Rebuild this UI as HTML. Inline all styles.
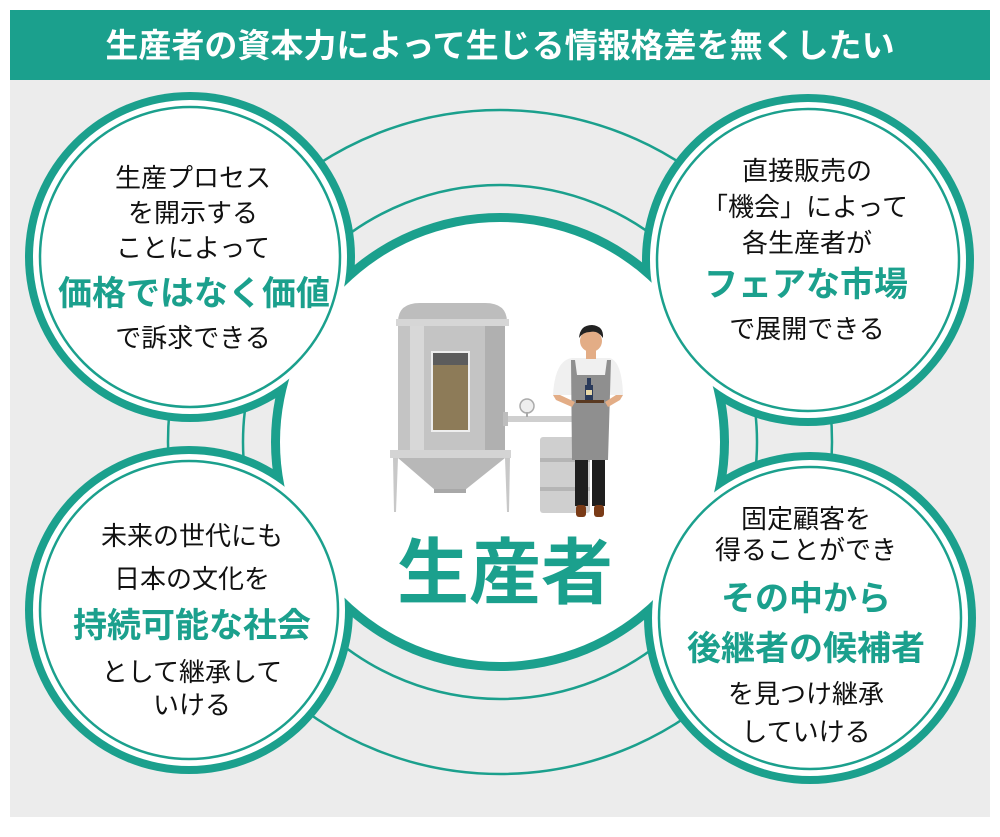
<!DOCTYPE html>
<html><head><meta charset="utf-8"><style>
html,body{margin:0;padding:0;background:#fff;}
svg{display:block;}
text{font-family:"Liberation Sans","Noto Sans CJK JP",sans-serif;}
</style></head><body>
<svg width="1000" height="837" viewBox="0 0 1000 837" xmlns="http://www.w3.org/2000/svg">
<rect x="0" y="0" width="1000" height="837" fill="#fff"/>
<rect x="10" y="80" width="980" height="737" fill="#ececec"/>
<rect x="10" y="10" width="980" height="70" fill="#1ba08d"/>
<text x="500" y="57" text-anchor="middle" font-size="33" font-weight="bold" fill="#fff">生産者の資本力によって生じる情報格差を無くしたい</text>

<circle cx="500" cy="442" r="332" fill="none" stroke="#1ba08d" stroke-width="2.5"/>
<circle cx="500" cy="442" r="257" fill="none" stroke="#1ba08d" stroke-width="2.5"/>

<g fill="#1ba08d">
<circle cx="500" cy="442" r="229"/>
<circle cx="190" cy="257" r="165"/>
<circle cx="808" cy="260" r="166"/>
<circle cx="189" cy="610" r="164"/>
<circle cx="810" cy="618" r="166"/>
</g>
<g fill="#fff">
<circle cx="500" cy="442" r="220"/>
<circle cx="190" cy="257" r="157"/>
<circle cx="808" cy="260" r="158"/>
<circle cx="189" cy="610" r="156"/>
<circle cx="810" cy="618" r="158"/>
</g>
<g fill="none" stroke="#1ba08d" stroke-width="2.5">
<circle cx="190" cy="257" r="150"/>
<circle cx="808" cy="260" r="151"/>
<circle cx="189" cy="610" r="149"/>
<circle cx="810" cy="618" r="151"/>
</g>

<g>
<path d="M398 322 Q398 303 420 303 L485 303 Q507 303 507 322 Z" fill="#bdbdbd"/>
<rect x="396" y="319" width="113" height="7" fill="#d6d6d6"/>
<rect x="398" y="326" width="107" height="124" fill="#c4c4c4"/>
<rect x="410" y="326" width="14" height="124" fill="#d8d8d8"/>
<rect x="485" y="326" width="20" height="124" fill="#b0b0b0"/>
<rect x="431" y="351" width="39" height="81" fill="#eee"/>
<rect x="433" y="353" width="35" height="77" fill="#8d7b58"/>
<rect x="433" y="353" width="35" height="12" fill="#5c5c5c"/>
<rect x="390" y="450" width="121" height="8" fill="#d4d4d4"/>
<path d="M398 458 L505 458 L465 490 L435 490 Z" fill="#b8b8b8"/>
<rect x="434" y="489" width="32" height="4" fill="#a8a8a8"/>
<path d="M393 458 L398 458 L396 512 L394 512 Z" fill="#c8c8c8"/>
<path d="M505 458 L510 458 L509 512 L507 512 Z" fill="#c8c8c8"/>
<rect x="504" y="416" width="68" height="6" fill="#cfcfcf"/>
<rect x="503" y="412" width="5" height="14" fill="#bdbdbd"/>
<circle cx="527" cy="406" r="7" fill="#eee" stroke="#aaa" stroke-width="1.5"/>
<rect x="526" y="412" width="2" height="5" fill="#aaa"/>
<rect x="540" y="437" width="50" height="76" rx="3" fill="#cfcfcf"/>
<rect x="540" y="458" width="50" height="4" fill="#b5b5b5"/>
<rect x="540" y="487" width="50" height="4" fill="#b5b5b5"/>
</g>
<g>
<path d="M553 395 Q555 360 572 358 L610 358 Q622 362 623 395 Z" fill="#f0f0f0"/>
<circle cx="591" cy="341" r="11" fill="#e3ad86"/>
<path d="M579 338 Q580 325 592 325 Q604 326 603 338 Q598 330 590 332 Q583 332 579 338 Z" fill="#222"/>
<rect x="586" y="350" width="10" height="9" fill="#e3ad86"/>
<path d="M571 360 L575 360 L577 375 L605 375 L607 360 L611 360 L608 460 L572 460 Z" fill="#8f8f8f"/>
<path d="M553 395 L560 395 L575 402 L572 407 L556 400 Z" fill="#e3ad86"/>
<path d="M623 395 L616 395 L605 402 L608 407 L620 400 Z" fill="#e3ad86"/>
<rect x="576" y="400" width="28" height="3" fill="#5a3a22"/>
<rect x="585" y="385" width="8" height="15" fill="#2a3a5a"/>
<rect x="587" y="378" width="4" height="8" fill="#2a3a5a"/>
<rect x="586" y="390" width="6" height="5" fill="#e8d8a8"/>
<rect x="575" y="460" width="13" height="46" fill="#1f1f1f"/>
<rect x="592" y="460" width="13" height="46" fill="#1f1f1f"/>
<rect x="576" y="505" width="10" height="12" rx="3" fill="#7a3b17"/>
<rect x="594" y="505" width="10" height="12" rx="3" fill="#7a3b17"/>
</g>

<text x="505" y="598" text-anchor="middle" font-size="72" font-weight="bold" fill="#1ba08d">生産者</text>

<g font-size="26" fill="#111" text-anchor="middle">
<text x="193" y="187">生産プロセス</text>
<text x="193" y="222">を開示する</text>
<text x="193" y="257">ことによって</text>
<text x="193" y="347">で訴求できる</text>

<text x="807" y="180">直接販売の</text>
<text x="805" y="216">「機会」によって</text>
<text x="807" y="252">各生産者が</text>
<text x="807" y="338">で展開できる</text>

<text x="192" y="545">未来の世代にも</text>
<text x="192" y="588">日本の文化を</text>
<text x="192" y="681">として継承して</text>
<text x="192" y="714">いける</text>

<text x="806" y="528">固定顧客を</text>
<text x="806" y="559">得ることができ</text>
<text x="806" y="703">を見つけ継承</text>
<text x="806" y="741">していける</text>
</g>
<g font-size="34" font-weight="bold" fill="#1ba08d" text-anchor="middle">
<text x="194" y="305">価格ではなく価値</text>
<text x="806" y="296">フェアな市場</text>
<text x="192" y="637">持続可能な社会</text>
<text x="806" y="610">その中から</text>
<text x="806" y="660">後継者の候補者</text>
</g>
</svg>
</body></html>
